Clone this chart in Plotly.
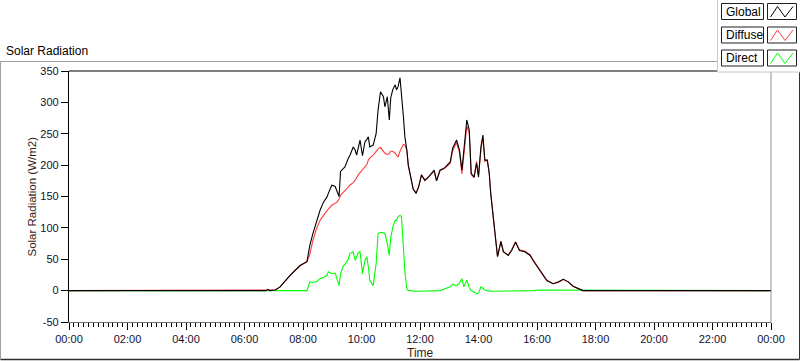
import plotly.graph_objects as go
import pandas as pd

# ---------------- data ----------------
times = ["00:00","06:44","06:48","06:52","07:03","07:13","07:33","07:54","08:08","08:14",
         "08:20","08:27","08:35","08:42","08:49","08:52","08:59","09:06","09:10","09:14",
         "09:17","09:23","09:26","09:33","09:36","09:43","09:47","09:50","09:53","09:57",
         "10:02","10:07","10:11","10:14","10:17","10:24","10:30","10:34","10:39","10:45",
         "10:48","10:53","10:57","11:00","11:04","11:09","11:12","11:15","11:19","11:22",
         "11:26","11:29","11:33","11:36","11:39","11:46","11:52","11:57","12:03","12:10",
         "12:17","12:21","12:29","12:34","12:41","12:51","13:02","13:07","13:15","13:21",
         "13:26","13:30","13:36","13:41","13:45","13:51","13:56","14:00","14:05","14:09",
         "14:13","14:18","14:22","14:25","14:29","14:34","14:39","14:46","14:51","15:01",
         "15:08","15:16","15:24","15:35","15:46","15:52","16:06","16:20","16:33","16:44",
         "16:54","17:04","17:14","17:24","17:34","17:59","24:00"]

global_wm2 = [0,0,2,0,1,6,24,40,46,72,
              90,108,128,141,149,155,168,166,157,150,
              190,195,197,211,215,229,224,216,228,240,
              215,237,241,245,229,232,250,288,317,309,
              293,309,272,307,320,328,320,325,339,315,
              277,245,224,200,187,162,155,165,184,176,
              181,184,192,175,192,196,205,227,240,224,
              192,224,272,256,187,181,203,181,229,248,
              208,208,187,155,123,86,54,78,62,56,
              64,77,64,62,56,48,32,16,11,14,
              18,14,7,3,0,0,0]

diffuse_wm2 = [0,0,1,0,1,6,24,40,46,58,
               79,97,112,120,128,130,136,139,141,146,
               152,157,159,165,168,172,176,181,184,188,
               193,197,201,208,211,216,222,226,228,222,
               219,217,218,222,222,219,216,213,222,227,
               233,232,224,199,187,162,156,165,185,175,
               181,185,190,175,191,195,203,223,236,220,
               186,218,262,252,185,180,206,183,225,244,
               206,208,188,156,124,87,55,79,62,57,
               65,78,65,63,57,49,33,17,11,13,
               18,14,7,3,0,0,0]

direct_wm2 = [0,0,0,0,0,0,0,0,0,14,
              13,14,19,21,24,30,27,28,18,8,
              27,40,42,50,59,62,48,55,60,62,
              27,48,54,38,16,8,43,91,93,92,
              91,75,56,85,100,112,112,118,120,118,
              60,30,3,0,0,-1,-1,-1,-1,-1,
              -1,-1,-1,0,0,3,6,10,8,12,
              19,6,17,5,0,-2,-5,-4,6,4,
              1,0,-1,-1,-1,-1,-1,-1,-1,-1,
              -1,-1,-1,-1,0,0,1,1,1,1,
              1,1,1,1,0,0,0]

y_tickvals = [-50, 0, 50, 100, 150, 200, 250, 300, 350]
y_ticktext = ["-50", "0", "50", "100", "150", "200", "250", "300", "350"]
series_names = ["Global", "Diffuse", "Direct"]
series_colors = ["#000000", "#ff3c3c", "#00ff00"]

# ---------------- helpers ----------------
base = pd.Timestamp("2000-01-01")
def to_dt(t):
    h, m = map(int, t.split(":"))
    return base + pd.Timedelta(hours=h, minutes=m)

xs = [to_dt(t) for t in times]

W, H = 800, 361
L, R, T, B = 69, 771, 71, 322
def px(p):
    return (p - L) / (R - L)
def py(q):
    return (B - q) / (B - T)

fig = go.Figure()
# draw order: direct, diffuse, global on top
for name, vals, col in [("Direct", direct_wm2, series_colors[2]),
                        ("Diffuse", diffuse_wm2, series_colors[1]),
                        ("Global", global_wm2, series_colors[0])]:
    fig.add_trace(go.Scatter(x=xs, y=vals, mode="lines", name=name,
                             line=dict(color=col, width=1.1), showlegend=False,
                             hoverinfo="skip"))

font_family = "Liberation Sans, Arial, sans-serif"
tick_col = "#111133"

shapes = []
# outer frame
shapes.append(dict(type="line", xref="paper", yref="paper", x0=px(0.5), x1=px(799.5), y0=py(61.5), y1=py(61.5), line=dict(color="#a0a0a0", width=1)))
shapes.append(dict(type="line", xref="paper", yref="paper", x0=px(0.5), x1=px(0.5), y0=py(61.5), y1=py(359.5), line=dict(color="#a0a0a0", width=1)))
shapes.append(dict(type="line", xref="paper", yref="paper", x0=px(0.5), x1=px(799.5), y0=py(359.5), y1=py(359.5), line=dict(color="#303030", width=1.5)))
shapes.append(dict(type="line", xref="paper", yref="paper", x0=px(799.5), x1=px(799.5), y0=py(61.5), y1=py(359.5), line=dict(color="#303030", width=1)))
# plot area top and right edges
shapes.append(dict(type="line", xref="paper", yref="paper", x0=0, x1=1, y0=1, y1=1, line=dict(color="#000000", width=1.2)))
shapes.append(dict(type="line", xref="paper", yref="paper", x0=1, x1=1, y0=0, y1=1, line=dict(color="#909090", width=1)))
# legend panel
shapes.append(dict(type="rect", xref="paper", yref="paper", x0=px(717.5), x1=px(801), y0=py(72), y1=py(-1), line=dict(color="#c8c8c8", width=1), fillcolor="#ffffff", layer="above"))

annotations = []
rows = [(3.5, 19.5), (27, 43), (50, 66)]
for (y0, y1), name, col in zip(rows, series_names, series_colors):
    shapes.append(dict(type="rect", xref="paper", yref="paper", x0=px(721.5), x1=px(763.5), y0=py(y1), y1=py(y0), line=dict(color="#202020", width=1), fillcolor="#ffffff", layer="above"))
    shapes.append(dict(type="rect", xref="paper", yref="paper", x0=px(767.5), x1=px(796.5), y0=py(y1), y1=py(y0), line=dict(color="#202020", width=1), fillcolor="#ffffff", layer="above"))
    zx = [770.5, 777.5, 785, 793]
    zy = [y1 - 2.5, y0 + 3, y1 - 2.5, y0 + 3]
    path = "M " + " L ".join(f"{px(a)},{py(b)}" for a, b in zip(zx, zy))
    shapes.append(dict(type="path", xref="paper", yref="paper", path=path, line=dict(color=col, width=1), layer="above"))
    annotations.append(dict(text=name, xref="paper", yref="paper", x=px(724), y=py((y0 + y1) / 2), xanchor="left", yanchor="middle", showarrow=False, font=dict(family=font_family, size=12, color="#000000")))

annotations.append(dict(text="Solar Radiation", xref="paper", yref="paper", x=px(4), y=py(50.5), xanchor="left", yanchor="middle", showarrow=False, font=dict(family=font_family, size=12, color="#000000")))
annotations.append(dict(text="Solar Radiation (W/m2)", xref="paper", yref="paper", x=px(31), y=0.5, xanchor="center", yanchor="middle", textangle=-90, showarrow=False, font=dict(family=font_family, size=11.5, color="#3a1a10")))
annotations.append(dict(text="Time", xref="paper", yref="paper", x=0.5, y=py(353), xanchor="center", yanchor="middle", showarrow=False, font=dict(family=font_family, size=12, color="#3a1a10")))

fig.update_layout(
    width=W, height=H,
    margin=dict(l=L, r=W - R, t=T, b=H - B, pad=0),
    paper_bgcolor="#ffffff", plot_bgcolor="#ffffff",
    showlegend=False, hovermode=False,
    shapes=shapes, annotations=annotations,
    xaxis=dict(type="date", range=[base, base + pd.Timedelta(days=1)],
               tickformat="%H:%M", dtick=7200000, tick0=base,
               ticks="outside", ticklen=7, tickcolor="#000000", tickwidth=1,
               showgrid=False, zeroline=False,
               showline=True, linecolor="#707070", linewidth=1,
               tickfont=dict(family=font_family, size=11, color=tick_col),
               minor=dict(dtick=600000, ticks="outside", ticklen=4, tickcolor="#000000", tickwidth=1, showgrid=False)),
    yaxis=dict(range=[-50, 350], tickvals=y_tickvals, ticktext=y_ticktext,
               ticks="outside", ticklen=7, tickcolor="#000000", tickwidth=1,
               showgrid=False, zeroline=False,
               showline=True, linecolor="#000000", linewidth=1.2,
               tickfont=dict(family=font_family, size=11, color=tick_col)),
)

fig.write_html("out.html", config={"displayModeBar": False},
               post_script="document.body.style.margin='0';document.body.style.overflow='hidden';")
